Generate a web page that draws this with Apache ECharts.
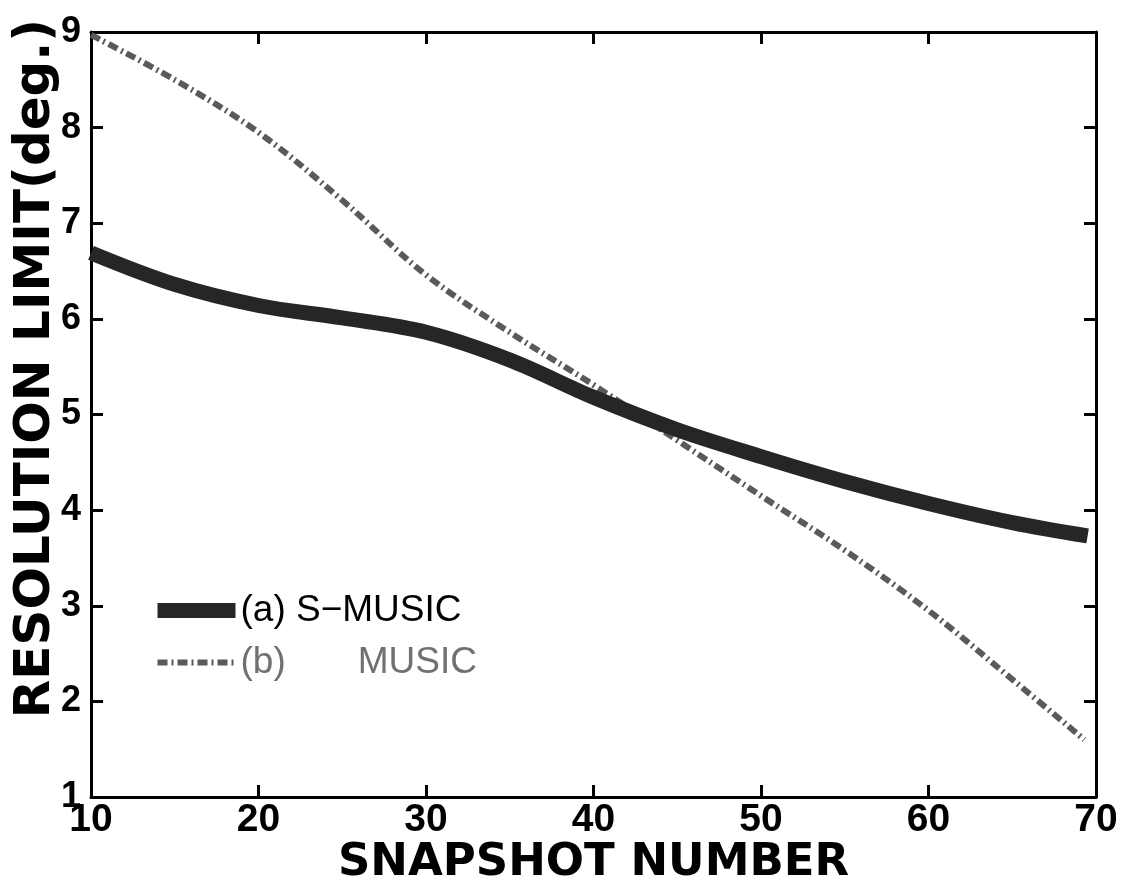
<!DOCTYPE html>
<html>
<head>
<meta charset="utf-8">
<script src="https://cdn.jsdelivr.net/npm/echarts@6/dist/echarts.min.js"></script>
<style>
html,body{margin:0;padding:0;background:#fff;}
#chart{width:1121px;height:891px;}
</style>
</head>
<body>
<div id="chart"></div>
<script>
// ---- data ----
const seriesNames = ['(a) S\u2212MUSIC', '(b) MUSIC'];
const sMusicX = [10, 15, 20, 25, 30, 35, 40, 45, 50, 55, 60, 65, 69.5];
const sMusicY = [6.69, 6.36, 6.14, 6.01, 5.86, 5.57, 5.18, 4.84, 4.56, 4.30, 4.07, 3.87, 3.73];
const musicX  = [10, 15, 20, 25, 30, 35, 40, 45, 50, 55, 60, 65, 69.3];
const musicY  = [8.97, 8.50, 7.95, 7.24, 6.46, 5.86, 5.31, 4.73, 4.15, 3.58, 2.95, 2.23, 1.60];
const xTicks = [10, 20, 30, 40, 50, 60, 70];
const yTicks = [1, 2, 3, 4, 5, 6, 7, 8, 9];
const xTitle = 'SNAPSHOT NUMBER';
const yTitle = 'RESOLUTION LIMIT(deg.)';

const pairs = (xs, ys) => xs.map((x, i) => [x, ys[i]]);

const chart = echarts.init(document.getElementById('chart'), null, {renderer: 'canvas'});

const axisLine = {show: true, lineStyle: {color: '#000', width: 3}};
const axisTick = {show: true, inside: true, length: 12, lineStyle: {color: '#000', width: 3}};

chart.setOption({
  backgroundColor: '#fff',
  animation: false,
  color: ['#262626', '#5a5a5a'],
  grid: {left: 91, right: 25, top: 32, bottom: 94, containLabel: false, outerBoundsMode: 'none'},
  legend: {
    orient: 'vertical',
    left: 150,
    top: 592,
    padding: 0,
    itemWidth: 78,
    itemHeight: 14,
    itemGap: 15,
    formatter: function (name) {
      return name === '(b) MUSIC' ? '(b)\u00a0\u00a0\u00a0\u00a0\u00a0\u00a0\u00a0MUSIC' : name;
    },
    textStyle: {fontFamily: 'Liberation Sans', fontSize: 37, lineHeight: 36, color: '#000'},
    data: [
      {name: seriesNames[0], itemStyle: {opacity: 0}, lineStyle: {width: 15, color: '#262626'}, textStyle: {color: '#000'}},
      {name: seriesNames[1], itemStyle: {opacity: 0}, lineStyle: {width: 6, color: '#5a5a5a', type: [10, 4, 2, 4]}, textStyle: {color: '#707070'}}
    ]
  },
  xAxis: [
    {
      type: 'value', min: 10, max: 70, interval: 10, position: 'bottom',
      axisLine: axisLine, axisTick: axisTick, splitLine: {show: false},
      axisLabel: {fontFamily: 'Liberation Sans', fontWeight: 'bold', fontSize: 39, color: '#000', margin: 4,
        formatter: v => xTicks.includes(v) ? String(v) : ''},
      name: xTitle, nameLocation: 'middle', nameGap: 44, nameMoveOverlap: false,
      nameTextStyle: {fontFamily: 'DejaVu Sans', fontWeight: 'bold', fontSize: 45, color: '#000'}
    },
    {
      type: 'value', min: 10, max: 70, interval: 10, position: 'top',
      axisLine: axisLine, axisTick: axisTick, axisLabel: {show: false}, splitLine: {show: false}
    }
  ],
  yAxis: [
    {
      type: 'value', min: 1, max: 9, interval: 1, position: 'left',
      axisLine: axisLine, axisTick: axisTick, splitLine: {show: false},
      axisLabel: {fontFamily: 'Liberation Sans', fontWeight: 'bold', fontSize: 36, color: '#000', margin: 10,
        formatter: v => yTicks.includes(v) ? String(v) : ''},
      name: yTitle, nameLocation: 'middle', nameGap: 30, nameRotate: 90, nameMoveOverlap: false,
      nameTextStyle: {fontFamily: 'DejaVu Sans', fontWeight: 'bold', fontSize: 50, color: '#000', padding: [0, 0, 0, 92]}
    },
    {
      type: 'value', min: 1, max: 9, interval: 1, position: 'right',
      axisLine: axisLine, axisTick: axisTick, axisLabel: {show: false}, splitLine: {show: false}
    }
  ],
  series: [
    {
      name: seriesNames[0], type: 'line', xAxisIndex: 0, yAxisIndex: 0,
      data: pairs(sMusicX, sMusicY), smooth: 0.35, symbol: 'none',
      itemStyle: {color: '#262626'},
      lineStyle: {color: '#262626', width: 15, cap: 'butt'}, z: 3
    },
    {
      name: seriesNames[1], type: 'line', xAxisIndex: 0, yAxisIndex: 0,
      data: pairs(musicX, musicY), smooth: 0.35, symbol: 'none',
      itemStyle: {color: '#5a5a5a'},
      lineStyle: {color: '#5a5a5a', width: 6, type: [10, 4, 2, 4], cap: 'butt'}, z: 2
    }
  ]
});
</script>
</body>
</html>
